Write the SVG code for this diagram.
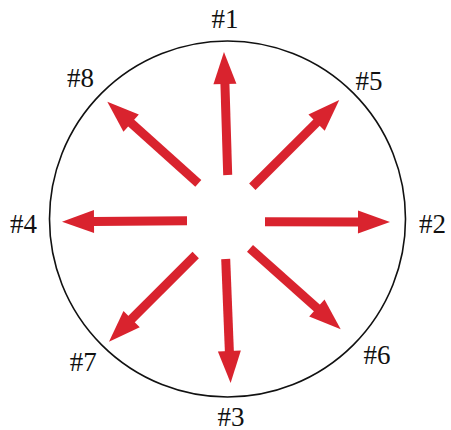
<svg xmlns="http://www.w3.org/2000/svg" width="451" height="430" viewBox="0 0 451 430">
<style>
.lbl{font-family:"Liberation Serif","Times New Roman",serif;font-size:27px;fill:#111;text-anchor:middle}
.arr{stroke:#d9232e;stroke-width:9;fill:none;marker-end:url(#head)}
</style>
<defs>
<marker id="head" markerUnits="userSpaceOnUse" viewBox="-1 -11.5 32 23" refX="0" refY="0" markerWidth="32" markerHeight="23" orient="auto" overflow="visible">
<path d="M-1,-11.5 L31,0 L-1,11.5 z" fill="#d9232e"/>
</marker>
</defs>
<g id="circle"><circle cx="227.5" cy="219" r="178" fill="none" stroke="#111" stroke-width="1.6"/></g>
<g id="connectors">
<line class="arr" x1="227.7" y1="175" x2="224.9" y2="83"/>
<line class="arr" x1="187" y1="220.7" x2="93" y2="221.4"/>
<line class="arr" x1="265" y1="221.7" x2="359" y2="222"/>
<line class="arr" x1="225.7" y1="259" x2="229.4" y2="352"/>
<line class="arr" x1="252.3" y1="186.7" x2="317.3" y2="121.9"/>
<line class="arr" x1="198.3" y1="183.3" x2="130.4" y2="122.4"/>
<line class="arr" x1="195.7" y1="255" x2="130.9" y2="319.8"/>
<line class="arr" x1="250" y1="248.3" x2="317.6" y2="308.7"/>
</g>
<g id="n1"><text class="lbl" x="225" y="28">#1</text></g>
<g id="n2"><text class="lbl" x="432.5" y="232.5">#2</text></g>
<g id="n3"><text class="lbl" x="231" y="426">#3</text></g>
<g id="n4"><text class="lbl" x="23.5" y="232.5">#4</text></g>
<g id="n5"><text class="lbl" x="369" y="90">#5</text></g>
<g id="n6"><text class="lbl" x="377" y="364">#6</text></g>
<g id="n7"><text class="lbl" x="83.3" y="371">#7</text></g>
<g id="n8"><text class="lbl" x="80.5" y="87.3">#8</text></g>
</svg>
